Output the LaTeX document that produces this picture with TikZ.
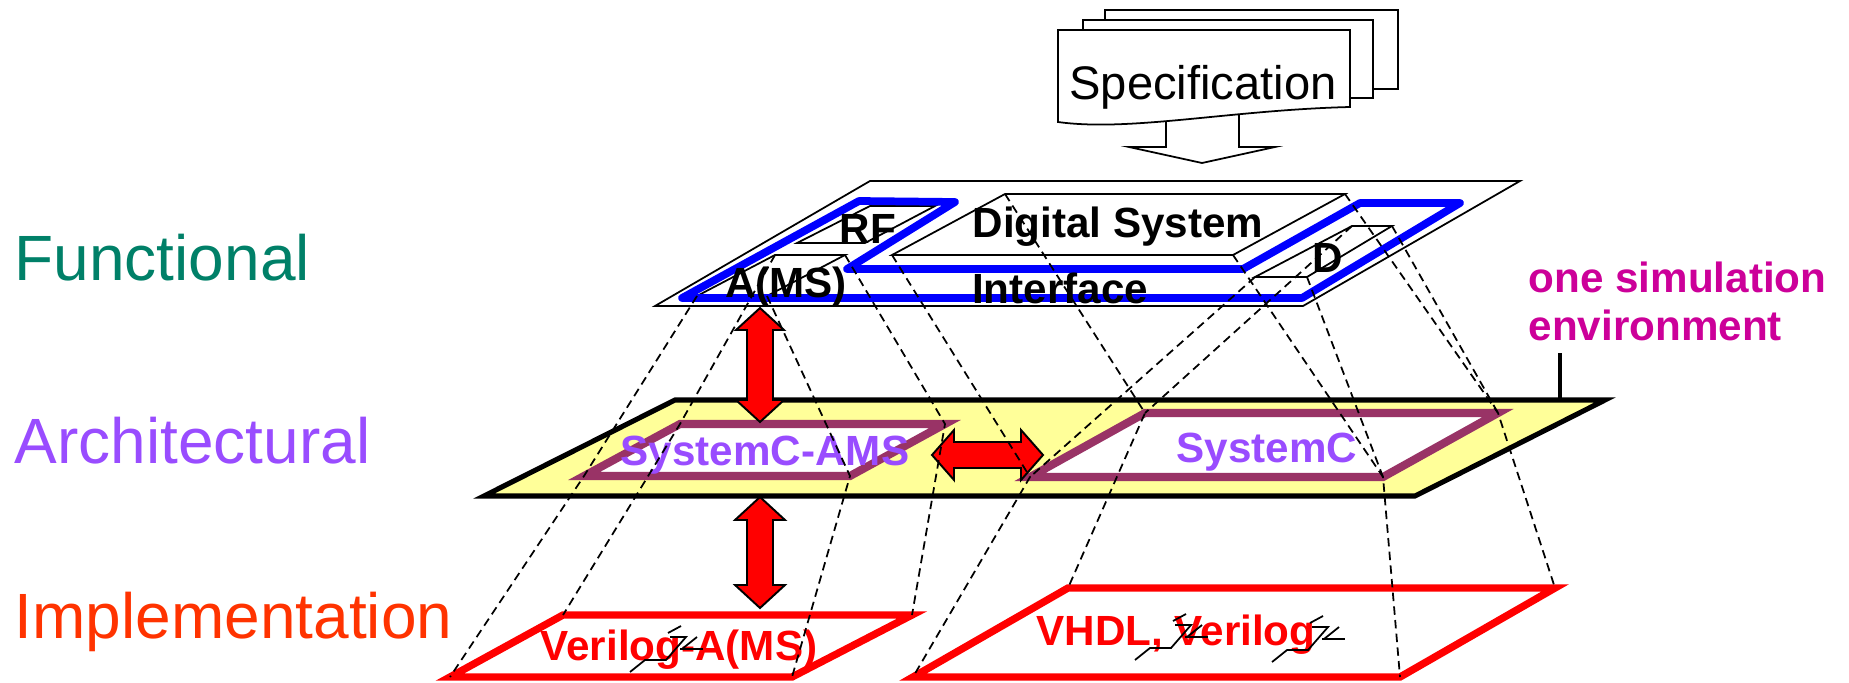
\documentclass[tikz,border=0pt]{standalone}
\usepackage{fontspec}
\setmainfont{Liberation Sans}
\definecolor{tealc}{RGB}{0,128,104}
\definecolor{archc}{RGB}{153,76,255}
\definecolor{implc}{RGB}{255,51,0}
\definecolor{magc}{RGB}{204,0,153}
\definecolor{maroonc}{RGB}{153,51,102}
\definecolor{yellowc}{RGB}{255,255,153}
\definecolor{bluec}{RGB}{0,0,255}
\begin{document}
\begin{tikzpicture}[x=0.01cm,y=-0.01cm,
  thinline/.style={draw=black,line width=0.5pt,line join=miter},
  projline/.style={draw=black,line width=0.5pt,dash pattern=on 2.4pt off 1.5pt},
  boldlbl/.style={font=\fontsize{12}{14}\selectfont\bfseries,inner sep=0pt,anchor=base},
  layerlbl/.style={font=\fontsize{18.2}{22}\selectfont,inner sep=0pt,anchor=base west},
  redarrow/.style={fill=red,draw=black,line width=0.55pt,line join=miter},
  archbox/.style={draw=maroonc,fill=white,line width=2.3pt,line join=miter},
  implbox/.style={draw=red,fill=white,line width=2.1pt,line join=miter},
  glyph/.style={draw=black,line width=0.5pt}
]
\useasboundingbox (0,0) rectangle (1849,682);
% ---------- coordinates ----------
\coordinate (F1) at (870,181); \coordinate (F2) at (1520,181);
\coordinate (F3) at (1303,306); \coordinate (F4) at (655,306);
\coordinate (DS1) at (1005,194); \coordinate (DS2) at (1345,194);
\coordinate (DS3) at (1233,255); \coordinate (DS4) at (892,255);
\coordinate (RF1) at (870,206); \coordinate (RF2) at (935,206);
\coordinate (RF3) at (865,243); \coordinate (RF4) at (797,243);
\coordinate (AM1) at (775,255); \coordinate (AM2) at (845,255);
\coordinate (AM3) at (767,296); \coordinate (AM4) at (697,296);
\coordinate (D1) at (1352,226); \coordinate (D2) at (1392,226);
\coordinate (D3) at (1307,277); \coordinate (D4) at (1255,277);
\coordinate (B1) at (682,298); \coordinate (B2) at (859,201);
\coordinate (B3) at (955,202); \coordinate (B4) at (847,269);
\coordinate (B5) at (1243,269); \coordinate (B6) at (1360,203);
\coordinate (B7) at (1460,203); \coordinate (B8) at (1302,298);
\coordinate (A1) at (675,400); \coordinate (A2) at (1605,400);
\coordinate (A3) at (1415,496); \coordinate (A4) at (484,496);
\coordinate (S1) at (680,424); \coordinate (S2) at (945,424);
\coordinate (S3) at (850,476); \coordinate (S4) at (584,476);
\coordinate (C1) at (1145,413); \coordinate (C2) at (1498,413);
\coordinate (C3) at (1383,477); \coordinate (C4) at (1030,477);
\coordinate (V1) at (563,615); \coordinate (V2) at (912,615);
\coordinate (V3) at (792,677); \coordinate (V4) at (450,677);
\coordinate (H1) at (1068,588); \coordinate (H2) at (1555,588);
\coordinate (H3) at (1400,677); \coordinate (H4) at (913,677);
\coordinate (T1) at (1560,400); \coordinate (T2) at (1560,353);
% ---------- specification ----------
\draw[thinline,fill=white] (1166,110) -- (1166,147) -- (1129,147) -- (1202,163)
   -- (1275,147) -- (1239,147) -- (1239,110) -- cycle;
\draw[thinline,fill=white] (1105,89) -- (1105,10) -- (1398,10) -- (1398,89) -- cycle;
\draw[thinline,fill=white] (1083,98) -- (1083,20) -- (1373,20) -- (1373,98) -- cycle;
\draw[thinline,fill=white] (1058,122) -- (1058,30) -- (1350,30) -- (1350,107)
   .. controls (1230,110) and (1130,132) .. (1058,122) -- cycle;
\node[inner sep=0pt,anchor=base,font=\fontsize{13.4}{16}\selectfont] (spec) at (1203,100) {Specification};
% ---------- functional plane ----------
\draw[thinline,fill=white] (F1) -- (F2) -- (F3) -- (F4) -- cycle;
\draw[thinline] (DS1) -- (DS2) -- (DS3) -- (DS4) -- cycle;
\draw[thinline] (RF1) -- (RF2) -- (RF3) -- (RF4) -- cycle;
\draw[thinline] (AM1) -- (AM2) -- (AM3) -- (AM4) -- cycle;
\draw[thinline] (D1) -- (D2) -- (D3) -- (D4) -- cycle;
\draw[draw=bluec,line width=2.2pt,line join=round,line cap=round]
   (B1) -- (B2) -- (B3) -- (B4) -- (B5) -- (B6) -- (B7) -- (B8) -- cycle;
\node[boldlbl] (ds) at (1118,238) {Digital System};
\node[boldlbl] (itf) at (1060,303) {Interface};
\node[boldlbl] (rf) at (868,243) {RF};
\node[boldlbl] (ams) at (786,297) {A(MS)};
\node[boldlbl] (dd) at (1328,272) {D};
% ---------- architectural plane ----------
\draw[draw=black,line width=1.3pt] (T1) -- (T2);
\draw[draw=black,fill=yellowc,line width=1.45pt,line join=miter] (A1) -- (A2) -- (A3) -- (A4) -- cycle;
\draw[archbox] (S1) -- (S2) -- (S3) -- (S4) -- cycle;
\draw[archbox] (C1) -- (C2) -- (C3) -- (C4) -- cycle;
\node[boldlbl,text=archc] (scams) at (765,465) {SystemC-AMS};
\node[boldlbl,text=archc] (sc) at (1267,462) {SystemC};
% ---------- implementation ----------
\draw[implbox] (V1) -- (V2) -- (V3) -- (V4) -- cycle;
\draw[implbox] (H1) -- (H2) -- (H3) -- (H4) -- cycle;
\node[boldlbl,text=red] (vams) at (679,660) {Verilog-A(MS)};
\node[boldlbl,text=red] (vhdl) at (1176,645) {VHDL, Verilog};
\foreach \gx/\gy in {630/626, 1135/614, 1272/616}{
  \begin{scope}[shift={(\gx,\gy)}]
    \draw[glyph] (0,46) -- (15,34) -- (36,34) -- (56,11) -- (40,11);
    \draw[glyph] (38,7) -- (51,0);
    \draw[glyph] (50,23) -- (73,23);
    \draw[glyph] (52,23) -- (67,11);
  \end{scope}
}
% ---------- red arrows ----------
\draw[redarrow] (760,308) -- (784,330) -- (773,330) -- (773,400) -- (784,400) -- (760,422)
   -- (736,400) -- (747,400) -- (747,330) -- (736,330) -- cycle;
\draw[redarrow] (760,497) -- (785,520) -- (773,520) -- (773,585) -- (785,585) -- (760,608)
   -- (735,585) -- (747,585) -- (747,520) -- (735,520) -- cycle;
\draw[redarrow] (932,455) -- (954,430) -- (954,442) -- (1021,442) -- (1021,430) -- (1043,455)
   -- (1021,480) -- (1021,468) -- (954,468) -- (954,480) -- cycle;
% ---------- projection lines ----------
\draw[projline] (AM1) -- (S1) -- (V1);
\draw[projline] (AM2) -- (S2) -- (V2);
\draw[projline] (AM3) -- (S3) -- (V3);
\draw[projline] (AM4) -- (S4) -- (V4);
\draw[projline] (DS1) -- (C1) -- (H1);
\draw[projline] (D1) -- (C1);
\draw[projline] (DS2) -- (C2) -- (H2);
\draw[projline] (D2) -- (C2);
\draw[projline] (DS3) -- (C3) -- (H3);
\draw[projline] (D3) -- (C3);
\draw[projline] (DS4) -- (C4) -- (H4);
\draw[projline] (D4) -- (C4);
% ---------- layer labels ----------
\node[layerlbl,text=tealc] (lf) at (14,281) {Functional};
\node[layerlbl,text=archc] (la) at (14,463) {Architectural};
\node[layerlbl,text=implc] (li) at (14,638) {Implementation};
\node[boldlbl,anchor=base west,text=magc] (env1) at (1528,292) {one simulation};
\node[boldlbl,anchor=base west,text=magc] (env2) at (1528,340) {environment};
\end{tikzpicture}
\end{document}
